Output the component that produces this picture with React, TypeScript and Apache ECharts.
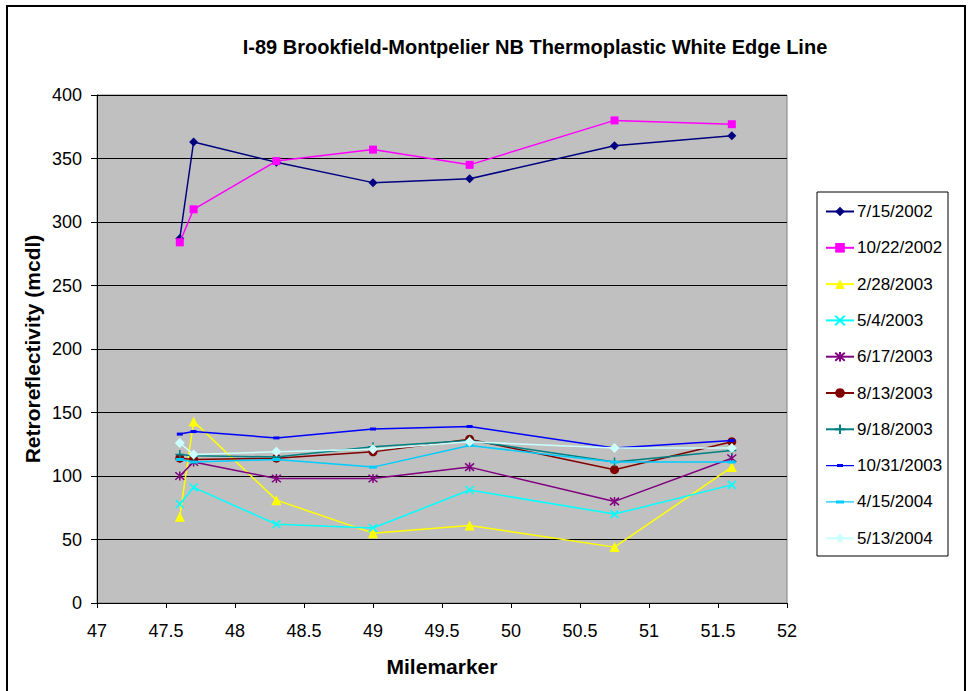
import React, { useEffect, useRef } from "react";
import * as echarts from "echarts";

const milemarkers = [47.6, 47.7, 48.3, 49.0, 49.7, 50.75, 51.6];

const seriesNames = [
  "7/15/2002",
  "10/22/2002",
  "2/28/2003",
  "5/4/2003",
  "6/17/2003",
  "8/13/2003",
  "9/18/2003",
  "10/31/2003",
  "4/15/2004",
  "5/13/2004",
];

const v20020715 = [287, 363, 347, 331, 334, 360, 368];
const v20021022 = [284, 310, 348, 357, 345, 380, 377];
const v20030228 = [68, 143, 81, 55, 61, 44, 107];
const v20030504 = [78, 91, 62, 59, 89, 70, 93];
const v20030617 = [100, 111, 98, 98, 107, 80, 114];
const v20030813 = [114, 113, 114, 119, 129, 105, 127];
const v20030918 = [117, 116, 115, 123, 128, 111, 120];
const v20031031 = [133, 135, 130, 137, 139, 122, 128];
const v20040415 = [113, 111, 113, 107, 124, 111, 111];
const v20040513 = [126, 117, 119, 121, 127, 122, 122];

const allValues = [
  v20020715,
  v20021022,
  v20030228,
  v20030504,
  v20030617,
  v20030813,
  v20030918,
  v20031031,
  v20040415,
  v20040513,
];

const colors = [
  "#000080",
  "#FF00FF",
  "#FFFF00",
  "#00FFFF",
  "#800080",
  "#800000",
  "#008080",
  "#0000FF",
  "#00CCFF",
  "#CCFFFF",
];

const symbols: any[] = [
  "diamond",
  "rect",
  "triangle",
  "path://M0,0L10,10M10,0L0,10",
  "path://M0,0L10,10M10,0L0,10M5,-1L5,11",
  "circle",
  "path://M5,0L5,10M0,5L10,5",
  "rect",
  "rect",
  "diamond",
];

const symbolSizes: any[] = [9, 8, 10, 8, 9, 9, 9, [6, 3], [8, 3], 10];

// custom legend icons for the small dash markers (line + dash)
const legendIcons: (string | undefined)[] = [
  undefined,
  undefined,
  undefined,
  undefined,
  undefined,
  undefined,
  undefined,
  "path://M0,5.3H28V6.7H0Z M11,4.5H17V7.5H11Z",
  "path://M0,5.3H28V6.7H0Z M10,4.5H18V7.5H10Z",
  undefined,
];

const yTicks = { min: 0, max: 400, interval: 50 };
const xTicks = { min: 47, max: 52, interval: 0.5 };

const FONT = '"Liberation Sans", Arial, sans-serif';

export default function App() {
  const ref = useRef<HTMLDivElement>(null);

  useEffect(() => {
    if (!ref.current) return;
    const chart = echarts.init(ref.current, null, { renderer: "svg" });

    const series = seriesNames.map((name, i) => ({
      name,
      type: "line",
      data: milemarkers.map((x, j) => [x, allValues[i][j]]),
      symbol: symbols[i],
      symbolSize: symbolSizes[i],
      showSymbol: true,
      lineStyle: { color: colors[i], width: 1.5 },
      itemStyle: {
        color: colors[i],
        borderColor: colors[i],
        borderWidth: symbols[i].startsWith("path://") ? 1.5 : 0,
      },
      emphasis: { disabled: true },
      z: 3 + i * 0.01,
    }));

    const legendData = seriesNames.map((name, i) =>
      legendIcons[i] ? { name, icon: legendIcons[i] } : { name }
    );

    chart.setOption({
      animation: false,
      backgroundColor: "#FFFFFF",
      textStyle: { fontFamily: FONT },
      grid: {
        left: 97,
        top: 95,
        right: 182,
        bottom: 88,
        show: true,
        backgroundColor: "#C0C0C0",
        borderColor: "#808080",
        borderWidth: 1,
        containLabel: false,
      },
      xAxis: {
        type: "value",
        min: xTicks.min,
        max: xTicks.max,
        interval: xTicks.interval,
        axisLine: { show: true, onZero: false, lineStyle: { color: "#000000", width: 1 } },
        axisTick: { show: true, length: 5, lineStyle: { color: "#000000" } },
        axisLabel: { color: "#000000", fontSize: 18, fontFamily: FONT, margin: 19 },
        splitLine: { show: false },
      },
      yAxis: {
        type: "value",
        min: yTicks.min,
        max: yTicks.max,
        interval: yTicks.interval,
        axisLine: { show: true, lineStyle: { color: "#000000", width: 1 } },
        axisTick: { show: true, length: 6, lineStyle: { color: "#000000" } },
        axisLabel: { color: "#000000", fontSize: 18, fontFamily: FONT, margin: 15 },
        splitLine: { show: true, lineStyle: { color: "#000000", width: 1 } },
      },
      legend: {
        orient: "vertical",
        left: 817,
        top: 192,
        padding: [11, 4, 4, 8],
        itemWidth: 28,
        itemHeight: 12,
        itemGap: 19.3,
        backgroundColor: "transparent",
        borderWidth: 0,
        textStyle: { color: "#000000", fontSize: 17, fontFamily: FONT, padding: [0, 0, 0, -2] },
        data: legendData,
        selectedMode: false,
        z: 10,
      },
      graphic: [
        {
          type: "rect",
          z: -10,
          silent: true,
          shape: { x: 7, y: 6, width: 958, height: 700 },
          style: { fill: "none", stroke: "#000000", lineWidth: 2 },
        },
        {
          type: "rect",
          z: 1,
          silent: true,
          shape: { x: 817, y: 192, width: 131, height: 364 },
          style: { fill: "#FFFFFF", stroke: "#000000", lineWidth: 1 },
        },
        {
          type: "text",
          x: 535,
          y: 47,
          silent: true,
          style: {
            text: "I-89 Brookfield-Montpelier NB Thermoplastic White Edge Line",
            font: `bold 20px ${FONT}`,
            fill: "#000000",
            align: "center",
            verticalAlign: "middle",
          },
        },
        {
          type: "text",
          x: 32,
          y: 349,
          rotation: Math.PI / 2,
          silent: true,
          style: {
            text: "Retroreflectivity (mcdl)",
            font: `bold 21px ${FONT}`,
            fill: "#000000",
            align: "center",
            verticalAlign: "middle",
          },
        },
        {
          type: "text",
          x: 442,
          y: 666,
          silent: true,
          style: {
            text: "Milemarker",
            font: `bold 21px ${FONT}`,
            fill: "#000000",
            align: "center",
            verticalAlign: "middle",
          },
        },
      ],
      series,
    });

    return () => chart.dispose();
  }, []);

  return (
    <div
      ref={ref}
      style={{ position: "absolute", left: 0, top: 0, width: 969, height: 691 }}
    />
  );
}
